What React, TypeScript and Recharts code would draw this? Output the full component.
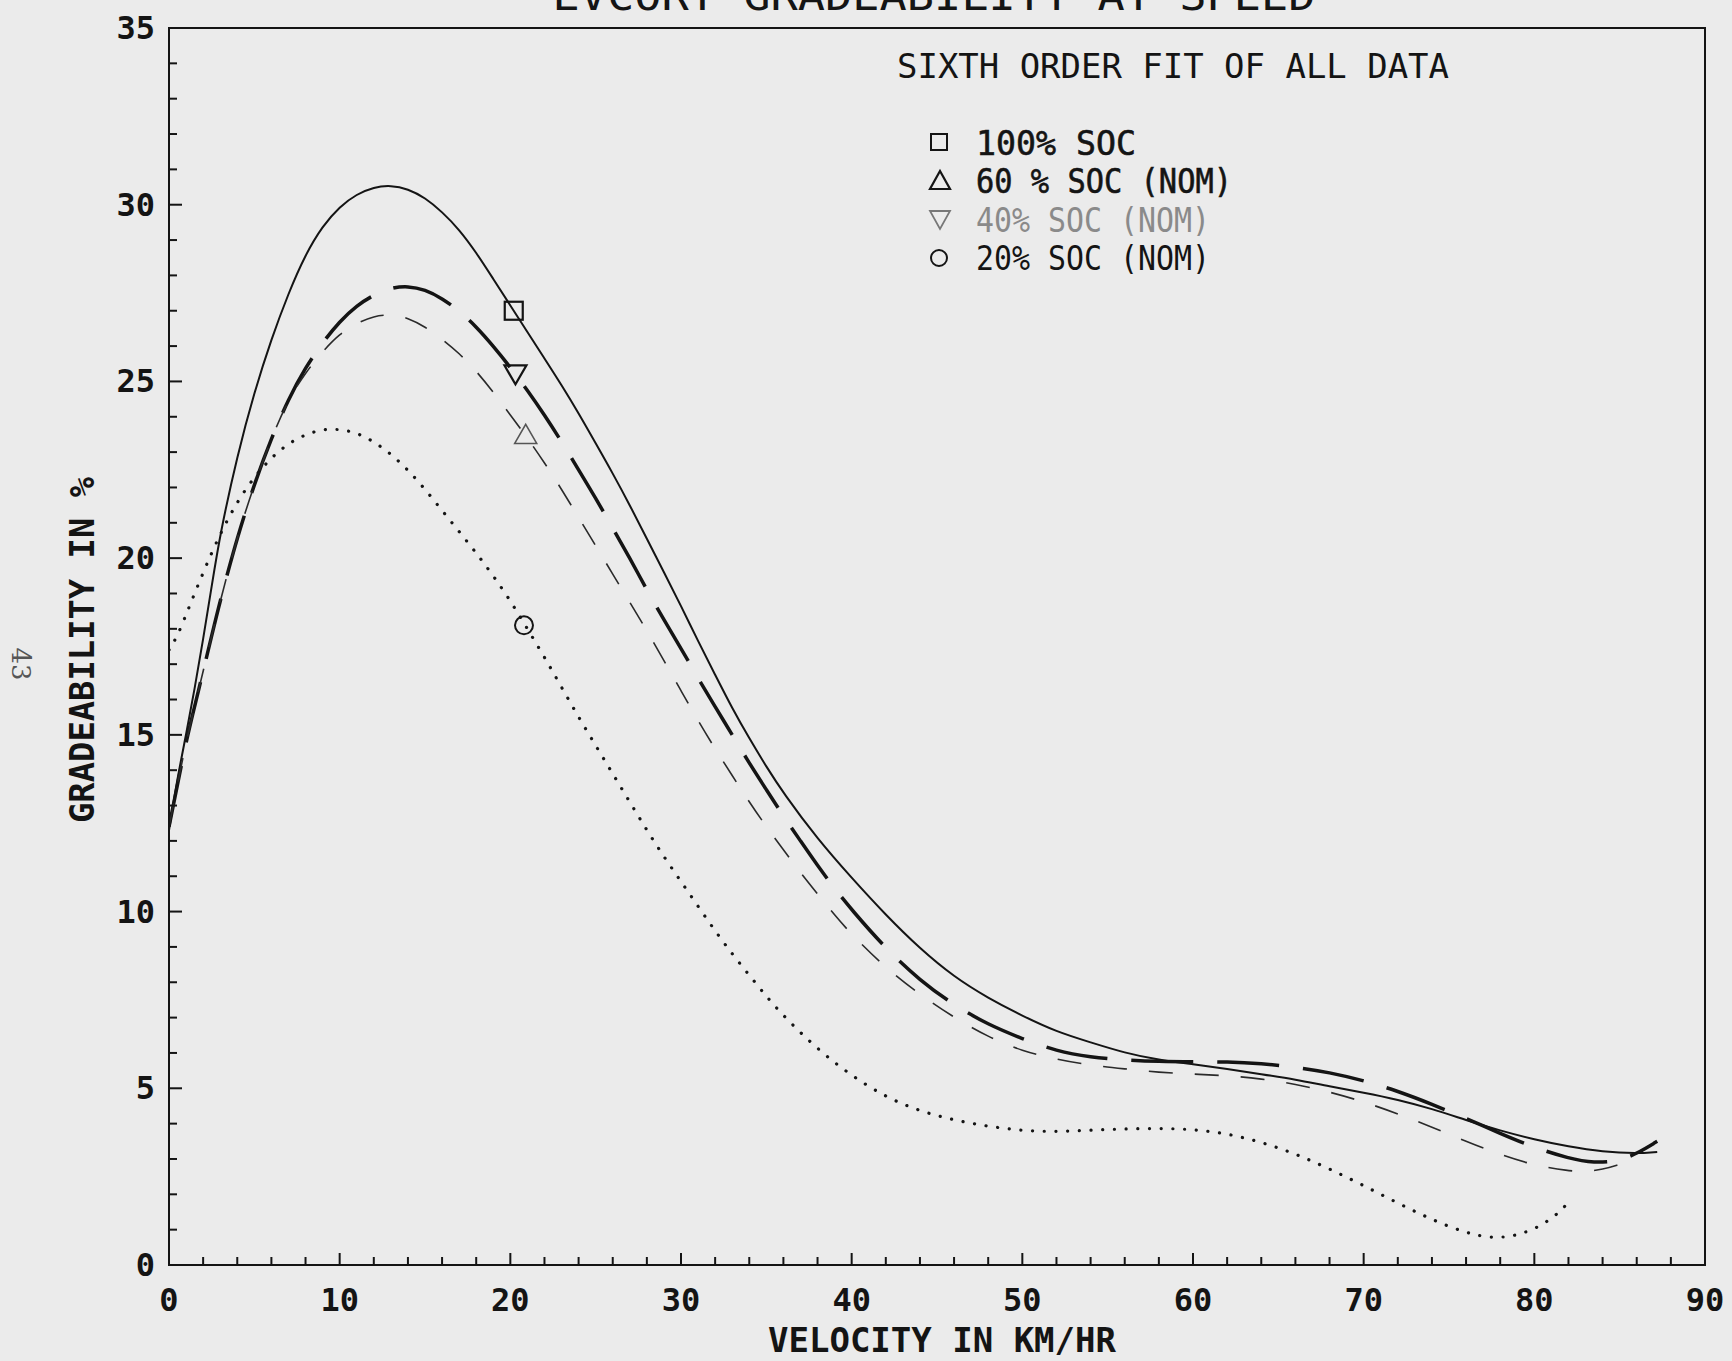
import { ComposedChart, Line, Scatter, XAxis, YAxis, ReferenceArea } from "recharts";

// axis ticks (minor every 2 km/h, every 1 %)
const xTicks = [0, 2, 4, 6, 8, 10, 12, 14, 16, 18, 20, 22, 24, 26, 28, 30, 32, 34, 36, 38, 40, 42, 44, 46, 48, 50, 52, 54, 56, 58, 60, 62, 64, 66, 68, 70, 72, 74, 76, 78, 80, 82, 84, 86, 88, 90];
const yTicks = [0, 1, 2, 3, 4, 5, 6, 7, 8, 9, 10, 11, 12, 13, 14, 15, 16, 17, 18, 19, 20, 21, 22, 23, 24, 25, 26, 27, 28, 29, 30, 31, 32, 33, 34, 35];

// sixth order fits: [velocity, gradeability]
const soc100 = [
  [0, 12.3], [0.5, 13.8], [1, 15.0], [1.5, 16.3], [2, 17.7], [2.5, 19.2], [3, 20.7], [4, 22.9], [5, 24.7], [6, 26.2],
  [7, 27.5], [8, 28.6], [9, 29.4], [10, 29.95], [11, 30.3], [12, 30.5], [13, 30.55], [14, 30.45], [15, 30.2], [16, 29.8],
  [17, 29.3], [18, 28.65], [19, 27.9], [20, 27.15], [21, 26.4], [22, 25.65], [23, 24.9], [24, 24.1], [25, 23.25], [26, 22.4],
  [27, 21.5], [28, 20.55], [29, 19.6], [30, 18.65], [31, 17.65], [32, 16.7], [33, 15.75], [34, 14.9], [35, 14.1], [36, 13.35],
  [38, 12.05], [40, 10.95], [42, 9.9], [44, 8.95], [46, 8.15], [48, 7.55], [50, 7.05], [52, 6.6], [54, 6.3], [56, 6.0],
  [58, 5.8], [60, 5.68], [62, 5.55], [64, 5.4], [66, 5.25], [68, 5.05], [70, 4.88], [72, 4.68], [74, 4.42], [76, 4.1],
  [78, 3.8], [80, 3.55], [82, 3.35], [84, 3.2], [86, 3.15], [87.2, 3.2],
];
const soc40 = [
  [0, 12.4], [0.5, 13.6], [1, 14.8], [1.5, 15.8], [2, 16.8], [2.5, 17.8], [3, 18.8], [4, 20.6], [5, 22.1], [6, 23.4],
  [7, 24.5], [8, 25.4], [9, 26.1], [10, 26.7], [11, 27.15], [12, 27.45], [13, 27.65], [14, 27.7], [15, 27.6], [16, 27.35],
  [17, 27.0], [18, 26.55], [19, 26.0], [20, 25.4], [21, 24.75], [22, 24.05], [23, 23.3], [24, 22.5], [25, 21.7], [26, 20.85],
  [27, 20.0], [28, 19.1], [29, 18.25], [30, 17.45], [31, 16.6], [32, 15.8], [33, 15.0], [34, 14.2], [35, 13.45], [36, 12.7],
  [37, 12.0], [38, 11.3], [39, 10.65], [40, 10.05], [42, 8.95], [44, 8.05], [46, 7.35], [48, 6.8], [50, 6.4], [52, 6.05],
  [54, 5.88], [56, 5.8], [58, 5.76], [60, 5.75], [62, 5.75], [64, 5.7], [66, 5.6], [68, 5.45], [70, 5.22], [72, 4.92],
  [74, 4.55], [76, 4.15], [78, 3.72], [80, 3.32], [82, 3.02], [83.5, 2.88], [85, 2.95], [86, 3.15], [87.2, 3.5],
];
const soc60 = [
  [0, 12.4], [0.5, 13.6], [1, 14.8], [1.5, 15.8], [2, 16.8], [3, 18.8], [4, 20.6], [5, 22.1], [6, 23.4], [7, 24.5],
  [8, 25.25], [9, 25.85], [10, 26.35], [11, 26.65], [12, 26.85], [13, 26.9], [14, 26.8], [15, 26.55], [16, 26.2], [17, 25.8],
  [18, 25.3], [19, 24.7], [20, 24.05], [21, 23.4], [22, 22.7], [23, 21.95], [24, 21.15], [25, 20.35], [26, 19.55], [27, 18.75],
  [28, 17.95], [29, 17.1], [30, 16.25], [31, 15.4], [32, 14.6], [33, 13.85], [34, 13.1], [35, 12.4], [36, 11.75], [37, 11.1],
  [38, 10.5], [39, 9.9], [40, 9.35], [42, 8.4], [44, 7.65], [46, 7.0], [48, 6.45], [50, 6.05], [52, 5.82], [54, 5.65],
  [56, 5.55], [58, 5.45], [60, 5.4], [62, 5.36], [64, 5.27], [66, 5.12], [68, 4.9], [70, 4.62], [72, 4.28], [74, 3.9],
  [76, 3.5], [78, 3.12], [80, 2.82], [82, 2.66], [83, 2.64], [84, 2.7], [85, 2.85],
];
const soc20 = [
  [0, 17.4], [0.5, 17.8], [1, 18.4], [2, 19.6], [3, 20.7], [4, 21.6], [5, 22.3], [6, 22.85], [7, 23.25], [8, 23.5],
  [9, 23.65], [10, 23.65], [11, 23.55], [12, 23.3], [13, 22.95], [14, 22.5], [15, 21.95], [16, 21.35], [17, 20.75], [18, 20.15],
  [19, 19.5], [20, 18.8], [21, 18.0], [22, 17.2], [23, 16.35], [24, 15.5], [25, 14.7], [26, 13.9], [27, 13.1], [28, 12.3],
  [29, 11.55], [30, 10.85], [31, 10.15], [32, 9.45], [33, 8.8], [34, 8.2], [35, 7.6], [36, 7.05], [38, 6.1], [40, 5.35],
  [42, 4.75], [44, 4.35], [46, 4.1], [48, 3.92], [50, 3.8], [52, 3.77], [54, 3.82], [56, 3.85], [58, 3.87], [60, 3.84],
  [62, 3.72], [64, 3.48], [66, 3.15], [68, 2.72], [70, 2.25], [72, 1.75], [74, 1.28], [76, 0.9], [77.6, 0.75], [79, 0.83],
  [80.3, 1.08], [81.3, 1.42], [81.8, 1.67],
];

// measured points
const pt100 = [[20.2, 27.0]];
const pt60 = [[20.9, 23.5]];
const pt40 = [[20.3, 25.2]];
const pt20 = [[20.8, 18.1]];

const legendRows = ["100% SOC", "60 % SOC (NOM)", "40% SOC (NOM)", "20% SOC (NOM)"];

const INK = "#141414";
const MONO = "'DejaVu Sans Mono', 'Liberation Mono', monospace";

const rows = (pairs: number[][]) => pairs.map(([x, y]) => ({ x, y }));

const XTick = (props: any) => {
  const { x, y, payload } = props;
  const major = payload.value % 10 === 0;
  return (
    <g>
      <line x1={x} x2={x} y1={y} y2={y - (major ? 12 : 8)} stroke={INK} strokeWidth={2} />
      {major && (
        <text x={x} y={y + 46} textAnchor="middle" fontFamily={MONO} fontWeight="bold" fontSize={32} fill={INK}>
          {payload.value}
        </text>
      )}
    </g>
  );
};

const YTick = (props: any) => {
  const { x, y, payload } = props;
  const major = payload.value % 5 === 0;
  return (
    <g>
      <line x1={x} x2={x + (major ? 13 : 8)} y1={y} y2={y} stroke={INK} strokeWidth={2} />
      {major && (
        <text x={x - 14} y={y + 11} textAnchor="end" fontFamily={MONO} fontWeight="bold" fontSize={32} fill={INK}>
          {payload.value}
        </text>
      )}
    </g>
  );
};

const Square = ({ cx, cy }: any) => (
  <rect x={cx - 9} y={cy - 9} width={18} height={18} fill="none" stroke={INK} strokeWidth={2.2} />
);
const TriUp = ({ cx, cy }: any) => (
  <polygon points={`${cx - 11},${cy + 9} ${cx + 11},${cy + 9} ${cx},${cy - 10}`} fill="none" stroke="#555" strokeWidth={1.6} />
);
const TriDown = ({ cx, cy }: any) => (
  <polygon points={`${cx - 11},${cy - 9} ${cx + 11},${cy - 9} ${cx},${cy + 10}`} fill="none" stroke={INK} strokeWidth={2.2} />
);
const Ring = ({ cx, cy }: any) => <circle cx={cx} cy={cy} r={9} fill="none" stroke={INK} strokeWidth={2} />;

export default function App() {
  return (
    <div style={{ position: "absolute", left: 0, top: 0, width: 1732, height: 1361, background: "#ebebeb", overflow: "hidden" }}>
      <ComposedChart width={1732} height={1361} margin={{ top: 28, right: 27, bottom: 0, left: 0 }}>
        <XAxis
          type="number"
          dataKey="x"
          domain={[0, 90]}
          ticks={xTicks}
          interval={0}
          height={96}
          tickSize={0}
          tickMargin={0}
          tickLine={false}
          tick={<XTick />}
          axisLine={{ stroke: INK, strokeWidth: 2 }}
          allowDataOverflow
        />
        <YAxis
          type="number"
          domain={[0, 35]}
          ticks={yTicks}
          interval={0}
          width={169}
          tickSize={0}
          tickMargin={0}
          tickLine={false}
          tick={<YTick />}
          axisLine={{ stroke: INK, strokeWidth: 2 }}
          allowDataOverflow
        />
        <ReferenceArea x1={0} x2={90} y1={0} y2={35} fill="none" stroke={INK} strokeWidth={2} />
        <Line data={rows(soc100)} dataKey="y" type="basis" stroke={INK} strokeWidth={2} dot={false} isAnimationActive={false} />
        <Line data={rows(soc40)} dataKey="y" type="basis" stroke={INK} strokeWidth={3.5} strokeDasharray="62 24" dot={false} isAnimationActive={false} />
        <Line data={rows(soc60)} dataKey="y" type="basis" stroke="#2a2a2a" strokeWidth={1.6} strokeDasharray="24 22" dot={false} isAnimationActive={false} />
        <Line data={rows(soc20)} dataKey="y" type="basis" stroke={INK} strokeWidth={3.2} strokeLinecap="round" strokeDasharray="0.1 11.6" dot={false} isAnimationActive={false} />
        <Scatter data={rows(pt100)} dataKey="y" shape={<Square />} isAnimationActive={false} />
        <Scatter data={rows(pt60)} dataKey="y" shape={<TriUp />} isAnimationActive={false} />
        <Scatter data={rows(pt40)} dataKey="y" shape={<TriDown />} isAnimationActive={false} />
        <Scatter data={rows(pt20)} dataKey="y" shape={<Ring />} isAnimationActive={false} />
      </ComposedChart>
      <svg width={1732} height={1361} style={{ position: "absolute", left: 0, top: 0, pointerEvents: "none" }}>
        <text x={934} y={10} textAnchor="middle" fontFamily={MONO} fontSize={40} fill={INK} textLength={763} lengthAdjust="spacingAndGlyphs">
          EVCORT GRADEABILITY AT SPEED
        </text>
        <text x={897} y={78} fontFamily={MONO} fontSize={34} fill={INK} textLength={552} lengthAdjust="spacingAndGlyphs">
          SIXTH ORDER FIT OF ALL DATA
        </text>
        <rect x={931} y={134} width={16} height={16} fill="none" stroke={INK} strokeWidth={2} />
        <polygon points="930,189 950,189 940,171" fill="none" stroke={INK} strokeWidth={2.2} />
        <polygon points="930,211 950,211 940,229" fill="none" stroke="#777" strokeWidth={1.8} />
        <circle cx={939} cy={258} r={8} fill="none" stroke={INK} strokeWidth={2} />
        <text x={976} y={155} fontFamily={MONO} fontSize={33} fill={INK} stroke={INK} strokeWidth={0.6} textLength={160} lengthAdjust="spacingAndGlyphs">
          {legendRows[0]}
        </text>
        <text x={976} y={193} fontFamily={MONO} fontSize={33} fill={INK} stroke={INK} strokeWidth={0.6} textLength={256} lengthAdjust="spacingAndGlyphs">
          {legendRows[1]}
        </text>
        <text x={976} y={232} fontFamily={MONO} fontSize={33} fill="#8a8a8a" textLength={234} lengthAdjust="spacingAndGlyphs">
          {legendRows[2]}
        </text>
        <text x={976} y={270} fontFamily={MONO} fontSize={33} fill={INK} textLength={234} lengthAdjust="spacingAndGlyphs">
          {legendRows[3]}
        </text>
        <text x={942} y={1352} textAnchor="middle" fontFamily={MONO} fontWeight="bold" fontSize={34} fill={INK} textLength={348} lengthAdjust="spacingAndGlyphs">
          VELOCITY IN KM/HR
        </text>
        <text x={94} y={650} textAnchor="middle" transform="rotate(-90 94 650)" fontFamily={MONO} fontWeight="bold" fontSize={34} fill={INK} textLength={346} lengthAdjust="spacingAndGlyphs">
          GRADEABILITY IN %
        </text>
        <text x={12} y={664} textAnchor="middle" transform="rotate(90 12 664)" fontFamily="'DejaVu Serif', serif" fontSize={26} fill="#555">
          43
        </text>
      </svg>
    </div>
  );
}
